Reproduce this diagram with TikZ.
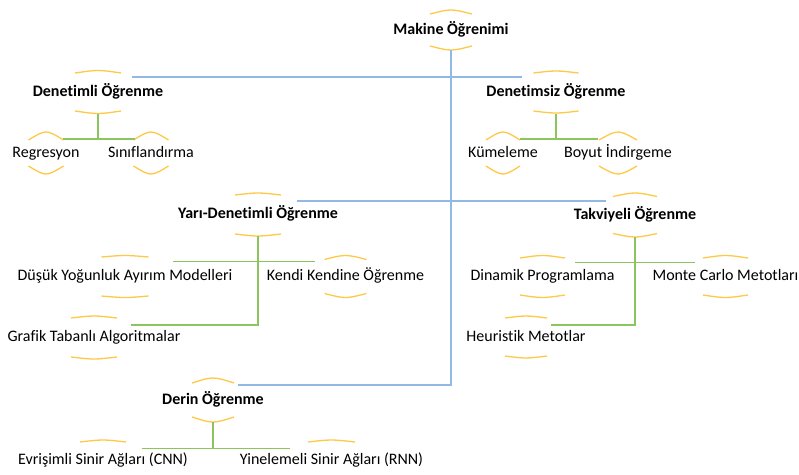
\documentclass[tikz,border=0pt]{standalone}
\usepackage{fontspec}
\setmainfont[Ligatures=NoCommon]{Carlito}
\usepackage{xcolor}
\usetikzlibrary{calc}

\definecolor{ringgold}{RGB}{255,200,70}
\definecolor{linkblue}{RGB}{146,185,228}
\definecolor{linkgreen}{RGB}{140,196,94}

% arcs above and below a node: name, half width, end offset, peak offset
\newcommand{\ringarcs}[4]{%
  \draw[ring] ($(#1)+(-#2,-#3)$) .. controls ($(#1)+(0,{-(4*#4-#3)/3})$) .. ($(#1)+(#2,-#3)$);
  \draw[ring] ($(#1)+(-#2,#3)$) .. controls ($(#1)+(0,{(4*#4-#3)/3})$) .. ($(#1)+(#2,#3)$);
}

\begin{document}
\begin{tikzpicture}[
    x=1pt, y=-1pt,
    base/.style  = {inner sep=0pt, text height=11.5pt, text depth=3.5pt,
                    minimum height=43pt},
    top/.style   = {base, font=\fontsize{16}{18}\selectfont\bfseries},
    leaf/.style  = {base, font=\fontsize{16}{18}\selectfont},
    ring/.style  = {draw=ringgold, line width=1.3pt},
    blueln/.style  = {draw=linkblue, line width=1.3pt},
    greenln/.style = {draw=linkgreen, line width=1.4pt},
]
\useasboundingbox (0,0) rectangle (799,474);
\clip (0,0) rectangle (799,474);

% ============ root ============
\node[top, minimum height=40pt] (mk) at (451,30) {Makine Öğrenimi};
\ringarcs{mk}{21}{16}{20}

\coordinate (bl1-w) at (131.7,77);
\coordinate (bl1-e) at (521.7,77);
\coordinate (bl2-w) at (296.7,201);
\coordinate (bl2-e) at (605.7,201);
\coordinate (bl3-w) at (238.3,385);
\draw[blueln] (mk.south) |- (bl3-w);
\draw[blueln] (bl1-w) -- (bl1-e);
\draw[blueln] (bl2-w) -- (bl2-e);

% ============ Denetimli ============
\begin{scope}
  \node[top]  (den) at (98,92)   {Denetimli Öğrenme};
  \node[leaf] (reg) at (46,153)  {Regresyon};
  \node[leaf] (sin) at (151,153) {Sınıflandırma};
  \ringarcs{den}{23}{19}{21.5}
  \ringarcs{reg}{17.5}{13}{21}
  \ringarcs{sin}{17.5}{13}{21}
  \coordinate (dj-w) at (63.3,139);
  \coordinate (dj-e) at (135,139);
  \draw[greenln] (den.south) -- (den.south |- dj-w);
  \draw[greenln] (dj-w) -- (dj-e);
\end{scope}

% ============ Denetimsiz ============
\begin{scope}
  \node[top]  (dsz) at (556,92)  {Denetimsiz Öğrenme};
  \node[leaf] (kum) at (503,153) {Kümeleme};
  \node[leaf] (boy) at (618,153) {Boyut İndirgeme};
  \ringarcs{dsz}{22.5}{19}{21}
  \ringarcs{kum}{17}{13}{21}
  \ringarcs{boy}{19}{13}{21}
  \coordinate (uj-w) at (520,139);
  \coordinate (uj-e) at (598.3,139);
  \draw[greenln] (dsz.south) -- (dsz.south |- uj-w);
  \draw[greenln] (uj-w) -- (uj-e);
\end{scope}

% ============ Yari-Denetimli ============
\begin{scope}
  \node[top]  (yar) at (258,214.5)   {Yarı-Denetimli Öğrenme};
  \node[leaf] (dus) at (125,276.5)   {Düşük Yoğunluk Ayırım Modelleri};
  \node[leaf] (kkn) at (345.5,276.5) {Kendi Kendine Öğrenme};
  \node[leaf] (grf) at (94,337.5)    {Grafik Tabanlı Algoritmalar};
  \ringarcs{yar}{23}{19.5}{21.5}
  \ringarcs{dus}{23.5}{19.5}{21}
  \ringarcs{kkn}{21}{17}{21}
  \ringarcs{grf}{23}{19.5}{21.5}
  \coordinate (yj-w) at (173.3,261.7);
  \coordinate (yj-e) at (315,261.7);
  \coordinate (yj-g) at (131,325);
  \draw[greenln] (yar.south) |- (yj-g);
  \draw[greenln] (yj-w) -- (yj-e);
\end{scope}

% ============ Takviyeli ============
\begin{scope}
  \node[top]  (tak) at (635,215)     {Takviyeli Öğrenme};
  \node[leaf] (din) at (542.5,276.5) {Dinamik Programlama};
  \node[leaf] (mcm) at (725.5,276.5) {Monte Carlo Metotları};
  \node[leaf] (heu) at (526,337)     {Heuristik Metotlar};
  \ringarcs{tak}{22}{18.5}{22}
  \ringarcs{din}{22.5}{18.5}{21}
  \ringarcs{mcm}{22.5}{18.5}{21}
  \ringarcs{heu}{21}{19}{21}
  \coordinate (tj-w) at (575,262.3);
  \coordinate (tj-e) at (695,262.3);
  \coordinate (tj-h) at (551,325);
  \draw[greenln] (tak.south) |- (tj-h);
  \draw[greenln] (tj-w) -- (tj-e);
\end{scope}

% ============ Derin ============
\begin{scope}
  \node[top]  (drn) at (213,400)   {Derin Öğrenme};
  \node[leaf] (cnn) at (103,460)   {Evrişimli Sinir Ağları (CNN)};
  \node[leaf] (rnn) at (331.5,460) {Yinelemeli Sinir Ağları (RNN)};
  \ringarcs{drn}{21}{17}{22}
  \ringarcs{cnn}{23}{18}{20}
  \ringarcs{rnn}{23.5}{18}{20}
  \coordinate (rj-w) at (141.7,448.3);
  \coordinate (rj-e) at (290,448.3);
  \draw[greenln] (drn.south) -- (drn.south |- rj-w);
  \draw[greenln] (rj-w) -- (rj-e);
\end{scope}

\end{tikzpicture}
\end{document}
